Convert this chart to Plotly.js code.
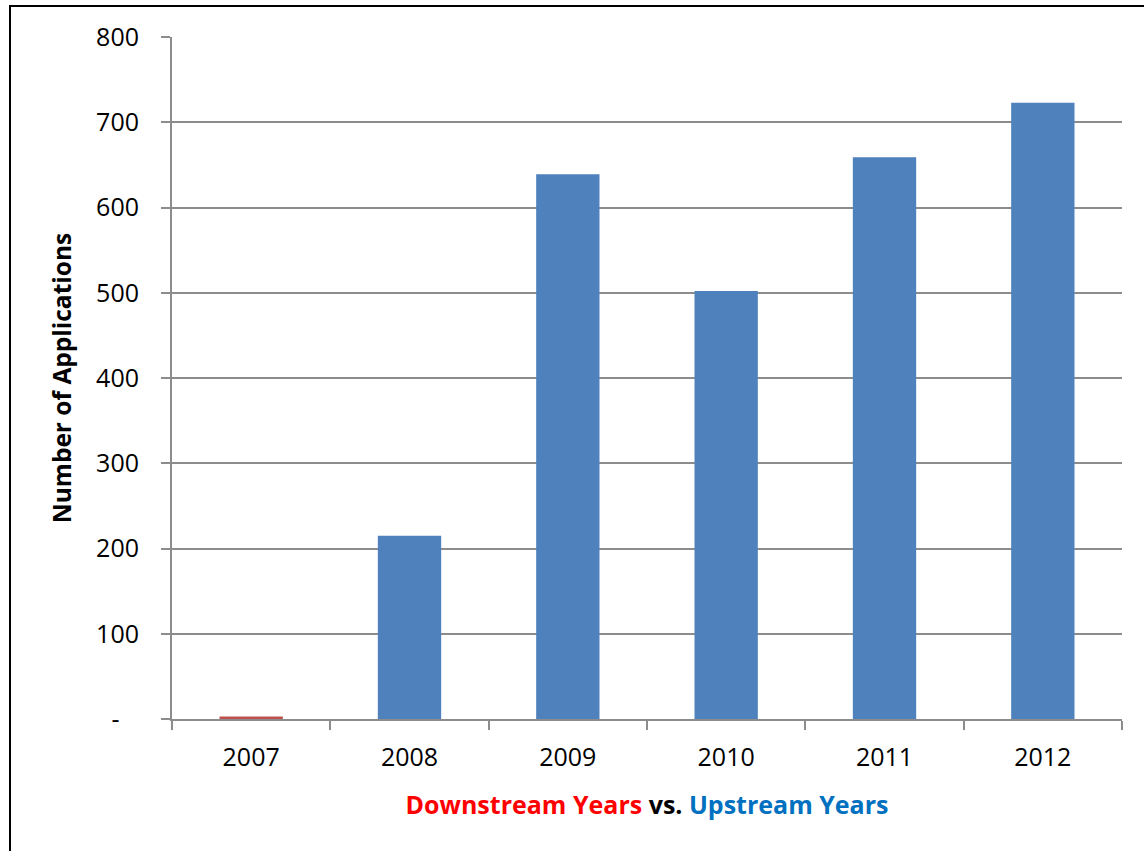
<!DOCTYPE html>
<html>
<head>
<meta charset="utf-8">
<script src="https://cdn.plot.ly/plotly-3.0.1.min.js"></script>
<style>
  html, body { margin: 0; padding: 0; background: #ffffff; }
  #chart { width: 1144px; height: 851px; }
</style>
</head>
<body>
<div id="chart"></div>
<script>
// Applications per year
const years = ['2007', '2008', '2009', '2010', '2011', '2012'];
const applications = [3, 215, 639, 502, 659, 723];
const barColors = ['#C0504D', '#4F81BD', '#4F81BD', '#4F81BD', '#4F81BD', '#4F81BD'];

const yTickVals = [0, 100, 200, 300, 400, 500, 600, 700, 800];
const yTickText = ['-&nbsp;&nbsp;&nbsp;', '100', '200', '300', '400', '500', '600', '700', '800'];

const FONT = '"Open Sans", "Noto Sans", "Liberation Sans", sans-serif';
const GRID = '#8c8c8c';

// Plot area in pixels
const W = 1144, H = 851;
const L = 172, R = 22, T = 37, B = 132;
const pw = W - L - R, ph = H - T - B;
const px = v => (v - L) / pw;          // pixel x -> paper x
const py = v => (H - B - v) / ph;      // pixel y -> paper y

const trace = {
  type: 'bar',
  x: years,
  y: applications,
  marker: { color: barColors, line: { width: 0 } },
  hoverinfo: 'x+y'
};

const layout = {
  width: W,
  height: H,
  margin: { l: L, r: R, t: T, b: B, pad: 0 },
  paper_bgcolor: '#ffffff',
  plot_bgcolor: '#ffffff',
  showlegend: false,
  bargap: 0.6,
  font: { family: FONT, size: 25, color: '#000000' },
  xaxis: {
    type: 'category',
    showline: true,
    linecolor: GRID,
    linewidth: 2,
    ticks: 'outside',
    tickson: 'boundaries',
    ticklen: 9,
    tickwidth: 2,
    tickcolor: GRID,
    ticklabelstandoff: 15,
    showgrid: false,
    zeroline: false,
    tickfont: { family: FONT, size: 25, color: '#000000' },
    title: {
      text: '<span style="color:#FF0000">Downstream Years</span> <span style="color:#000000">vs.</span> <span style="color:#0070C0">Upstream Years</span>',
      font: { family: FONT, size: 25, color: '#000000', weight: 'bold' },
      standoff: 24
    }
  },
  yaxis: {
    range: [0, 800],
    tickvals: yTickVals,
    ticktext: yTickText,
    showline: true,
    linecolor: GRID,
    linewidth: 2,
    ticks: 'outside',
    ticklen: 9,
    tickwidth: 2,
    tickcolor: GRID,
    ticklabelstandoff: 17,
    showgrid: true,
    gridcolor: GRID,
    gridwidth: 2,
    zeroline: false,
    tickfont: { family: FONT, size: 25, color: '#000000' },
    title: {
      text: 'Number of Applications',
      font: { family: FONT, size: 24.5, color: '#000000', weight: 'bold' },
      standoff: 18
    }
  },
  shapes: [
    // outer frame (left and top edges)
    { type: 'line', xref: 'paper', yref: 'paper',
      x0: px(10), x1: px(10), y0: py(H + 5), y1: py(5),
      line: { color: '#000000', width: 2 } },
    { type: 'line', xref: 'paper', yref: 'paper',
      x0: px(9), x1: px(W + 5), y0: py(6), y1: py(6),
      line: { color: '#000000', width: 2 } }
  ]
};

Plotly.newPlot('chart', [trace], layout, { displayModeBar: false, staticPlot: true });
</script>
</body>
</html>
